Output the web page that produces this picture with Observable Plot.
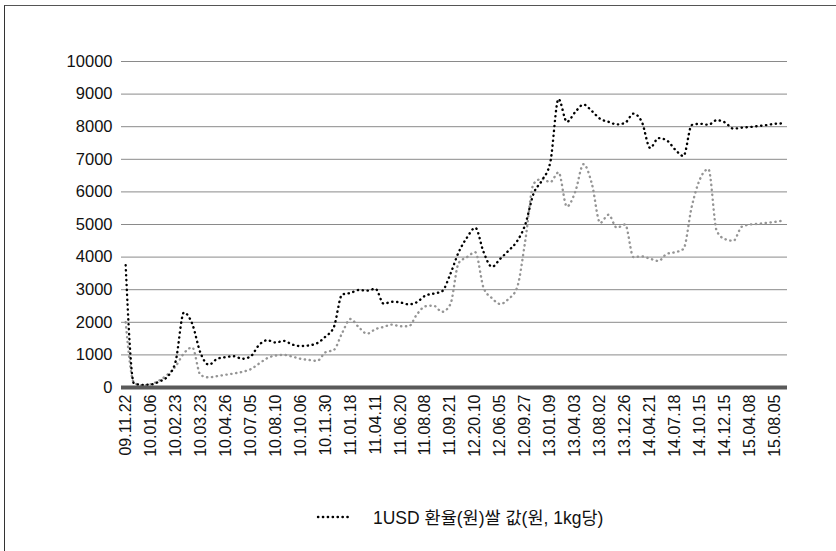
<!DOCTYPE html>
<html>
<head>
<meta charset="utf-8">
<script src="https://cdn.jsdelivr.net/npm/d3@7"></script>
<script src="https://cdn.jsdelivr.net/npm/@observablehq/plot@0.6"></script>
<style>
  html, body { margin: 0; padding: 0; background: #fff; }
  #wrap { position: relative; width: 836px; height: 551px; overflow: hidden; font-family: "Liberation Sans", Arial, "Noto Sans CJK KR", sans-serif; }
  #frame { position: absolute; left: 4px; top: 5px; width: 840px; height: 560px; border-top: 1.5px solid #555; border-left: 1.5px solid #333; box-sizing: border-box; }
  #chart { position: absolute; left: 0; top: 0; }
  #legend { position: absolute; top: 504px; left: 316px; display: flex; align-items: center; font-size: 17.5px; color: #111; font-family: "Liberation Sans", Arial, "Noto Sans CJK KR", sans-serif; }
  #legend svg { margin-right: 20px; }
</style>
</head>
<body>
<div id="wrap">
  <div id="frame"></div>
  <div id="chart"></div>
  <div id="legend"></div>
</div>
<script>
const tickLabels = ["09.11.22","10.01.06","10.02.23","10.03.23","10.04.26","10.07.05","10.08.10","10.10.06","10.11.30","11.01.18","11.04.11","11.06.20","11.08.08","11.09.21","12.20.10","12.06.05","12.09.27","13.01.09","13.04.03","13.08.02","13.12.26","14.04.21","14.07.18","14.10.15","14.12.15","15.04.08","15.08.05"];

const usdRate = [3750,120,80,90,180,330,800,2300,1950,1050,
  700,880,930,960,880,950,1300,1450,1380,1430,
  1320,1270,1290,1360,1560,1850,2850,2900,2990,2970,
  3030,2570,2630,2610,2550,2620,2820,2880,2950,3480,
  4150,4600,4900,4150,3700,3950,4200,4480,5000,5950,
  6350,6900,8850,8150,8450,8680,8480,8240,8150,8070,
  8120,8400,8150,7350,7650,7580,7300,7100,8050,8090,
  8060,8200,8130,7940,7970,7990,8020,8050,8090,8100];

const ricePrice = [2000,150,60,100,210,390,650,1050,1230,380,
  310,350,390,430,480,560,730,900,980,1000,
  950,880,845,815,1080,1150,1670,2100,1850,1650,
  1790,1860,1930,1880,1880,2250,2490,2510,2320,2550,
  3820,4000,4150,3050,2740,2560,2720,3050,4500,6250,
  6400,6300,6600,5550,6000,6850,6250,5050,5300,4900,
  5000,4000,4020,3950,3880,4100,4150,4250,5550,6400,
  6700,4800,4550,4500,4930,5000,5020,5050,5080,5120];

const yTicks = d3.range(0, 10001, 1000);
const labelStep = 3;
const legendText = "1USD 환율(원)쌀 값(원, 1kg당)";

const usdData = usdRate.map((v, i) => ({i, v}));
const riceData = ricePrice.map((v, i) => ({i, v}));
const n = usdRate.length;

const dotStyle = {strokeWidth: 2.4, strokeDasharray: "0.3 4.6", strokeLinecap: "round", curve: "monotone-x"};

const chart = Plot.plot({
  width: 836,
  height: 480,
  marginLeft: 121,
  marginRight: 49,
  marginTop: 61,
  marginBottom: 93,
  style: {fontFamily: "'Liberation Sans', Arial, sans-serif", color: "#111", background: "transparent"},
  x: {domain: [-0.5, n - 0.5]},
  y: {domain: [0, 10000]},
  marks: [
    Plot.ruleY(yTicks.filter(d => d > 0), {stroke: "#8a8a8a", strokeWidth: 1}),
    Plot.axisY({ticks: yTicks, tickSize: 0, tickPadding: 9, fontSize: 16.5, label: null, tickFormat: d => String(d)}),
    Plot.axisX({ticks: d3.range(0, n, labelStep).slice(0, tickLabels.length), tickFormat: i => tickLabels[i / labelStep], tickRotate: -90, tickSize: 0, tickPadding: 7, fontSize: 16, label: null}),
    Plot.line(riceData, {x: "i", y: "v", stroke: "#959595", ...dotStyle}),
    Plot.line(usdData, {x: "i", y: "v", stroke: "#000", ...dotStyle}),
    Plot.ruleY([0], {stroke: "#5a5a5a", strokeWidth: 4})
  ]
});
document.getElementById("chart").appendChild(chart);

const legend = document.getElementById("legend");
legend.innerHTML = `<svg width="37" height="10"><line x1="2" y1="5" x2="36" y2="5" stroke="#000" stroke-width="2.4" stroke-dasharray="0.3 4.6" stroke-linecap="round"/></svg><span></span>`;
legend.querySelector("span").textContent = legendText;
</script>
</body>
</html>
